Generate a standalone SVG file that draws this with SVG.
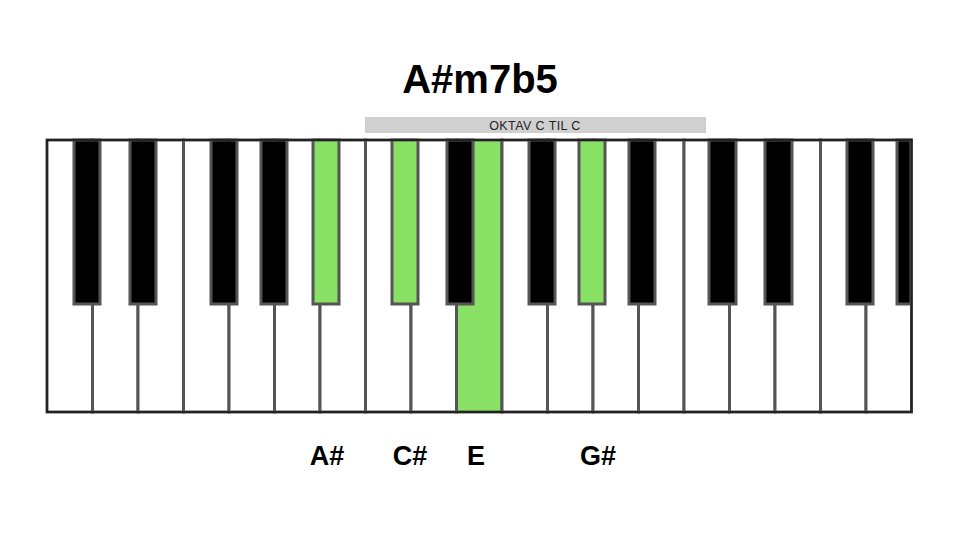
<svg xmlns="http://www.w3.org/2000/svg" width="960" height="540" viewBox="0 0 960 540">
<style>
.w{fill:#fff;stroke:#555;stroke-width:3}
.wg{fill:#88e064;stroke:#555;stroke-width:3}
.b{fill:#000;stroke:#555;stroke-width:3}
.bg{fill:#88e064;stroke:#555;stroke-width:3}
.t{font-family:"Liberation Sans",Arial,sans-serif;font-weight:bold;fill:#000;text-anchor:middle}
</style>
<rect width="960" height="540" fill="#fff"/>
<text class="t" x="480" y="93" font-size="40">A#m7b5</text>
<g id="octave-bar">
<rect x="365" y="117" width="341" height="16" fill="#d0d0d0"/>
<text x="535" y="130" font-family="Liberation Sans,Arial,sans-serif" font-size="12.5" letter-spacing="0.4" fill="#222" text-anchor="middle">OKTAV C TIL C</text>
</g>
<g id="white-keys">
<rect class="w" x="47" y="140" width="45.5" height="272"/>
<rect class="w" x="92.5" y="140" width="45.5" height="272"/>
<rect class="w" x="138" y="140" width="45.5" height="272"/>
<rect class="w" x="183.5" y="140" width="45.5" height="272"/>
<rect class="w" x="229" y="140" width="45.5" height="272"/>
<rect class="w" x="274.5" y="140" width="45.5" height="272"/>
<rect class="w" x="320" y="140" width="45.5" height="272"/>
<rect class="w" x="365.5" y="140" width="45.5" height="272"/>
<rect class="w" x="411" y="140" width="45.5" height="272"/>
<rect class="wg" x="456.5" y="140" width="45.5" height="272"/>
<rect class="w" x="502" y="140" width="45.5" height="272"/>
<rect class="w" x="547.5" y="140" width="45.5" height="272"/>
<rect class="w" x="593" y="140" width="45.5" height="272"/>
<rect class="w" x="638.5" y="140" width="45.5" height="272"/>
<rect class="w" x="684" y="140" width="45.5" height="272"/>
<rect class="w" x="729.5" y="140" width="45.5" height="272"/>
<rect class="w" x="775" y="140" width="45.5" height="272"/>
<rect class="w" x="820.5" y="140" width="45.5" height="272"/>
<rect class="w" x="866" y="140" width="45.5" height="272"/>
</g>
<g id="black-keys">
<rect class="b" x="74" y="140" width="26" height="164"/>
<rect class="b" x="130" y="140" width="26" height="164"/>
<rect class="b" x="211" y="140" width="26" height="164"/>
<rect class="b" x="261" y="140" width="26" height="164"/>
<rect class="bg" x="313" y="140" width="26" height="164"/>
<rect class="bg" x="392" y="140" width="26" height="164"/>
<rect class="b" x="447" y="140" width="26" height="164"/>
<rect class="b" x="529" y="140" width="26" height="164"/>
<rect class="bg" x="579" y="140" width="26" height="164"/>
<rect class="b" x="629" y="140" width="26" height="164"/>
<rect class="b" x="709" y="140" width="27" height="164"/>
<rect class="b" x="765" y="140" width="27" height="164"/>
<rect class="b" x="847" y="140" width="26" height="164"/>
<rect class="b" x="897" y="140" width="14" height="164"/>
</g>
<rect id="frame" x="47" y="140" width="864.5" height="272" fill="none" stroke="#222" stroke-width="2"/>
<g id="labels">
<text class="t" x="327" y="465" font-size="27">A#</text>
<text class="t" x="410" y="465" font-size="27">C#</text>
<text class="t" x="476" y="465" font-size="27">E</text>
<text class="t" x="598" y="465" font-size="27">G#</text>
</g>
</svg>
